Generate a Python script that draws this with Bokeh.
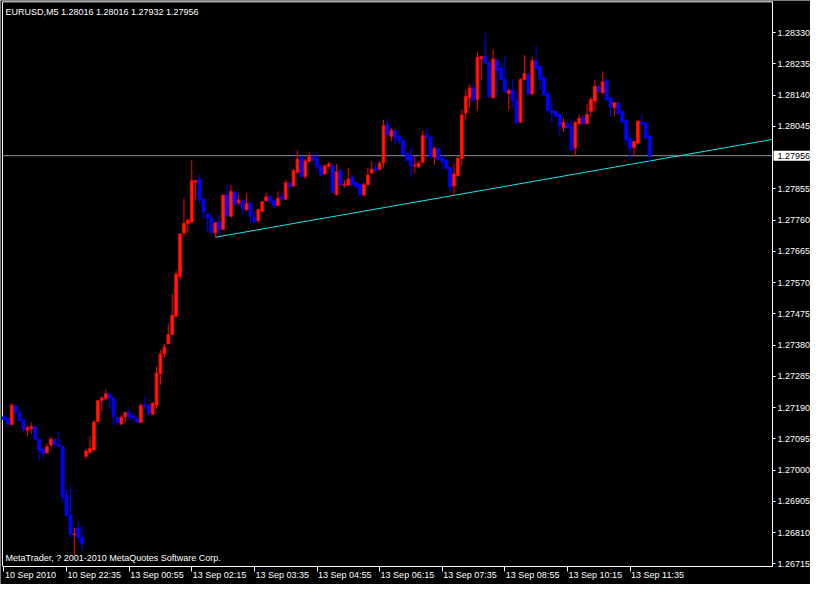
from bokeh.plotting import figure
from bokeh.models import Range1d, FixedTicker, PrintfTickFormatter, Label, LabelSet, ColumnDataSource
from bokeh.embed import file_html
from bokeh.resources import INLINE
from bokeh.core.properties import value

symbol = "EURUSD,M5"

opens = [1.27162, 1.27157, 1.27138, 1.27194, 1.27175, 1.27152, 1.27121, 1.27126, 1.27132, 1.27093,
         1.27064, 1.27052, 1.27076, 1.27092, 1.27078, 1.27072, 1.26923, 1.26862, 1.26803, 1.26823,
         1.26795, 1.27042, 1.27054, 1.27061, 1.27147, 1.27212, 1.27217, 1.27232, 1.27219, 1.27160,
         1.27140, 1.27162, 1.27175, 1.27165, 1.27157, 1.27145, 1.27200, 1.27195, 1.27170, 1.27197,
         1.27293, 1.27353, 1.27384, 1.27412, 1.27468, 1.27589, 1.27721, 1.27749, 1.27754, 1.27875,
         1.27885, 1.27824, 1.27779, 1.27767, 1.27721, 1.27755, 1.27732, 1.27836, 1.27772, 1.27844,
         1.27813, 1.27818, 1.27792, 1.27811, 1.27769, 1.27759, 1.27787, 1.27819, 1.27831, 1.27819,
         1.27804, 1.27833, 1.27824, 1.27872, 1.27864, 1.27905, 1.27952, 1.27893, 1.27939, 1.27952,
         1.27949, 1.27923, 1.27900, 1.27923, 1.27925, 1.27838, 1.27910, 1.27866, 1.27866, 1.27890,
         1.27875, 1.27868, 1.27836, 1.27868, 1.27903, 1.27918, 1.27915, 1.27935, 1.28051, 1.28014,
         1.28033, 1.28014, 1.28004, 1.27962, 1.27957, 1.27925, 1.27922, 1.27936, 1.28019, 1.28013,
         1.27952, 1.27977, 1.27949, 1.27942, 1.27920, 1.27864, 1.27895, 1.27948, 1.28086, 1.28132,
         1.28162, 1.28127, 1.28250, 1.28258, 1.28238, 1.28132, 1.28247, 1.28221, 1.28188, 1.28145,
         1.28156, 1.28122, 1.28058, 1.28188, 1.28201, 1.28144, 1.28245, 1.28228, 1.28191, 1.28144,
         1.28093, 1.28090, 1.28081, 1.28041, 1.28053, 1.28046, 1.27979, 1.28053, 1.28073, 1.28053,
         1.28091, 1.28122, 1.28165, 1.28147, 1.28186, 1.28132, 1.28102, 1.28114, 1.28091, 1.28063,
         1.28007, 1.27981, 1.27994, 1.28058, 1.28055, 1.28016]
highs = [1.27170, 1.27160, 1.27203, 1.27200, 1.27185, 1.27155, 1.27135, 1.27144, 1.27133, 1.27096,
         1.27064, 1.27080, 1.27102, 1.27094, 1.27118, 1.27072, 1.26940, 1.26953, 1.26825, 1.26844,
         1.26830, 1.27066, 1.27102, 1.27152, 1.27213, 1.27224, 1.27244, 1.27233, 1.27220, 1.27161,
         1.27167, 1.27177, 1.27185, 1.27173, 1.27158, 1.27203, 1.27224, 1.27200, 1.27206, 1.27315,
         1.27364, 1.27384, 1.27446, 1.27535, 1.27606, 1.27719, 1.27826, 1.27765, 1.27943, 1.27881,
         1.27900, 1.27825, 1.27780, 1.27777, 1.27753, 1.27777, 1.27838, 1.27866, 1.27866, 1.27848,
         1.27838, 1.27821, 1.27841, 1.27815, 1.27785, 1.27794, 1.27818, 1.27844, 1.27836, 1.27821,
         1.27848, 1.27844, 1.27883, 1.27877, 1.27917, 1.27972, 1.27954, 1.27946, 1.27969, 1.27962,
         1.27969, 1.27930, 1.27930, 1.27937, 1.27929, 1.27930, 1.27917, 1.27883, 1.27918, 1.27897,
         1.27877, 1.27869, 1.27875, 1.27919, 1.27940, 1.27937, 1.27940, 1.28066, 1.28070, 1.28040,
         1.28034, 1.28020, 1.28007, 1.27963, 1.27981, 1.27954, 1.27942, 1.28033, 1.28040, 1.28015,
         1.27984, 1.27981, 1.27961, 1.27945, 1.27922, 1.27930, 1.27954, 1.28096, 1.28157, 1.28173,
         1.28176, 1.28270, 1.28259, 1.28329, 1.28241, 1.28280, 1.28249, 1.28238, 1.28260, 1.28159,
         1.28188, 1.28149, 1.28191, 1.28262, 1.28212, 1.28257, 1.28290, 1.28230, 1.28206, 1.28145,
         1.28132, 1.28091, 1.28082, 1.28071, 1.28061, 1.28068, 1.28060, 1.28080, 1.28078, 1.28114,
         1.28134, 1.28186, 1.28171, 1.28213, 1.28188, 1.28133, 1.28120, 1.28122, 1.28092, 1.28064,
         1.28033, 1.28001, 1.28063, 1.28081, 1.28056, 1.28016]
lows = [1.27152, 1.27131, 1.27137, 1.27162, 1.27148, 1.27115, 1.27103, 1.27111, 1.27093, 1.27029,
        1.27037, 1.27051, 1.27071, 1.27073, 1.27071, 1.26904, 1.26859, 1.26792, 1.26741, 1.26780,
        1.26753, 1.27032, 1.27052, 1.27060, 1.27146, 1.27177, 1.27214, 1.27185, 1.27137, 1.27137,
        1.27137, 1.27145, 1.27153, 1.27156, 1.27143, 1.27143, 1.27192, 1.27165, 1.27167, 1.27187,
        1.27259, 1.27341, 1.27383, 1.27411, 1.27467, 1.27578, 1.27708, 1.27721, 1.27753, 1.27821,
        1.27811, 1.27762, 1.27726, 1.27718, 1.27708, 1.27718, 1.27729, 1.27771, 1.27768, 1.27804,
        1.27806, 1.27779, 1.27787, 1.27749, 1.27752, 1.27752, 1.27786, 1.27818, 1.27808, 1.27797,
        1.27803, 1.27823, 1.27821, 1.27856, 1.27861, 1.27904, 1.27892, 1.27885, 1.27937, 1.27935,
        1.27910, 1.27893, 1.27898, 1.27915, 1.27843, 1.27834, 1.27867, 1.27858, 1.27864, 1.27867,
        1.27856, 1.27831, 1.27835, 1.27866, 1.27901, 1.27909, 1.27910, 1.27920, 1.28018, 1.28001,
        1.27989, 1.27991, 1.27959, 1.27940, 1.27890, 1.27902, 1.27918, 1.27934, 1.28009, 1.27951,
        1.27928, 1.27944, 1.27915, 1.27917, 1.27846, 1.27836, 1.27892, 1.27925, 1.28066, 1.28102,
        1.28124, 1.28093, 1.28186, 1.28237, 1.28134, 1.28131, 1.28137, 1.28187, 1.28149, 1.28096,
        1.28102, 1.28055, 1.28055, 1.28185, 1.28142, 1.28141, 1.28220, 1.28157, 1.28139, 1.28088,
        1.28055, 1.28073, 1.28019, 1.28028, 1.28039, 1.27973, 1.27954, 1.28052, 1.28052, 1.28052,
        1.28075, 1.28093, 1.28151, 1.28145, 1.28126, 1.28075, 1.28075, 1.28084, 1.28057, 1.27986,
        1.27945, 1.27954, 1.27993, 1.28050, 1.28008, 1.27932]
closes = [1.27154, 1.27140, 1.27197, 1.27177, 1.27150, 1.27125, 1.27129, 1.27132, 1.27094, 1.27060,
          1.27050, 1.27071, 1.27094, 1.27079, 1.27072, 1.26919, 1.26862, 1.26805, 1.26806, 1.26795,
          1.26775, 1.27058, 1.27066, 1.27146, 1.27211, 1.27219, 1.27232, 1.27219, 1.27163, 1.27145,
          1.27160, 1.27175, 1.27162, 1.27157, 1.27145, 1.27197, 1.27193, 1.27173, 1.27203, 1.27295,
          1.27353, 1.27374, 1.27412, 1.27471, 1.27596, 1.27718, 1.27750, 1.27760, 1.27880, 1.27880,
          1.27821, 1.27785, 1.27767, 1.27723, 1.27752, 1.27732, 1.27836, 1.27772, 1.27848, 1.27808,
          1.27821, 1.27795, 1.27811, 1.27772, 1.27755, 1.27792, 1.27816, 1.27831, 1.27819, 1.27804,
          1.27826, 1.27824, 1.27874, 1.27861, 1.27910, 1.27946, 1.27893, 1.27940, 1.27954, 1.27946,
          1.27923, 1.27897, 1.27925, 1.27931, 1.27844, 1.27907, 1.27868, 1.27869, 1.27885, 1.27868,
          1.27861, 1.27838, 1.27868, 1.27897, 1.27915, 1.27910, 1.27933, 1.28048, 1.28019, 1.28033,
          1.28011, 1.28002, 1.27961, 1.27942, 1.27925, 1.27928, 1.27933, 1.28017, 1.28014, 1.27952,
          1.27977, 1.27945, 1.27938, 1.27918, 1.27861, 1.27900, 1.27948, 1.28080, 1.28137, 1.28162,
          1.28125, 1.28255, 1.28257, 1.28238, 1.28135, 1.28250, 1.28216, 1.28188, 1.28150, 1.28154,
          1.28123, 1.28056, 1.28188, 1.28206, 1.28144, 1.28245, 1.28221, 1.28188, 1.28140, 1.28094,
          1.28086, 1.28076, 1.28046, 1.28057, 1.28041, 1.27974, 1.28058, 1.28070, 1.28053, 1.28081,
          1.28127, 1.28167, 1.28152, 1.28181, 1.28127, 1.28104, 1.28117, 1.28085, 1.28058, 1.28004,
          1.27979, 1.27999, 1.28061, 1.28051, 1.28009, 1.27956]

# price axis ticks (the 1.27950 level is hidden behind the current-price tag)
y_ticks = [1.26715, 1.26810, 1.26905, 1.27000, 1.27095, 1.27190, 1.27285, 1.27380, 1.27475,
           1.27570, 1.27665, 1.27760, 1.27855, 1.28045, 1.28140, 1.28235, 1.28330]
# time axis: bar index -> label
x_tick_bars = [0, 16, 32, 48, 64, 80, 96, 112, 128, 144, 160]
x_tick_labels = ["10 Sep 2010", "10 Sep 22:35", "13 Sep 00:55", "13 Sep 02:15", "13 Sep 03:35",
                 "13 Sep 04:55", "13 Sep 06:15", "13 Sep 07:35", "13 Sep 08:55", "13 Sep 10:15",
                 "13 Sep 11:35"]
# trend line anchors (bar index, price)
trend_bars = [54, 165]
trend_prices = [1.27708, 1.27940]
footer = "MetaTrader, ? 2001-2010 MetaQuotes Software Corp."

FONT = "Liberation Sans"
FS = "9px"
# chart window (bars / prices) and the whole canvas around it
CX0, CX1 = -0.375, 196.4        # left border, price-scale line
CY0, CY1 = 1.26708, 1.28424     # time-scale line, top border
FX0, FX1 = -0.875, 206.1        # canvas extent incl. price scale
FY0, FY1 = 1.26652, 1.28428     # canvas extent incl. time scale

n = len(opens)
idx = list(range(n))
bull = [c >= o for o, c in zip(opens, closes)]
col = ["#FF0000" if b else "#0000FF" for b in bull]
fill = ["#FF2200" if b else "#0000FF" for b in bull]
src = ColumnDataSource(dict(x=idx, o=opens, h=highs, l=lows, c=closes,
                            top=[max(a, b) for a, b in zip(opens, closes)],
                            bot=[min(a, b) for a, b in zip(opens, closes)],
                            col=col, fill=fill))

p = figure(width=810, height=584, output_backend="svg", toolbar_location=None,
           x_range=Range1d(FX0, FX1), y_range=Range1d(FY0, FY1),
           y_axis_location="right", min_border=0)
p.min_border_left = 0
p.min_border_right = 0
p.min_border_top = 0
p.min_border_bottom = 0
p.background_fill_color = "black"
p.border_fill_color = "black"
p.outline_line_color = None
p.grid.visible = False

ya = p.yaxis[0]
ya.fixed_location = CX1
ya.bounds = (CY0, CY1)
ya.ticker = FixedTicker(ticks=y_ticks)
ya.formatter = PrintfTickFormatter(format="%.5f")
ya.major_label_text_color = "white"
ya.major_label_text_font = FONT
ya.major_label_text_font_size = FS
ya.axis_line_color = "white"
ya.major_tick_line_color = "white"
ya.major_tick_in = 0
ya.major_tick_out = 3
ya.minor_tick_line_color = None
ya.major_label_standoff = 2

xa = p.xaxis[0]
xa.fixed_location = CY0
xa.bounds = (CX0, CX1)
xa.ticker = FixedTicker(ticks=x_tick_bars)
xa.major_label_overrides = {b: "" for b in x_tick_bars}
xa.axis_line_color = "white"
xa.major_tick_line_color = "white"
xa.major_tick_in = 0
xa.major_tick_out = 5
xa.minor_tick_line_color = None

# chart window left and top borders
p.line([CX0, CX0, CX1], [CY0, CY1, CY1], line_color="white", line_width=1)

# current price line
last_close = closes[-1]
p.line([CX0, CX1], [last_close, last_close], line_color="#8A96A0", line_width=1)

# trend line extended to the price scale
slope = (trend_prices[1] - trend_prices[0]) / (trend_bars[1] - trend_bars[0])
t_end = trend_prices[0] + slope * (CX1 - trend_bars[0])
p.line([trend_bars[0], CX1], [trend_prices[0], t_end], line_color="#1CE6E6", line_width=1)

# candles
p.segment(x0="x", y0="l", x1="x", y1="h", line_color="col", line_width=1, source=src)
p.vbar(x="x", width=0.7, top="top", bottom="bot", fill_color="fill", line_color="col",
       line_width=1, source=src)

# current price tag on the price scale
p.quad(left=[CX1 + 0.25], right=[FX1], top=[last_close], bottom=[last_close],
       fill_color="white", line_color="white", line_width=10)
p.text(x=[CX1], y=[last_close], text=[f"{last_close:.5f}"], x_offset=5,
       text_color="black", text_font=value(FONT), text_font_size=value(FS),
       text_baseline="middle", text_align="left")

header = f"{symbol}  {opens[-1]:.5f} {highs[-1]:.5f} {lows[-1]:.5f} {closes[-1]:.5f}"
p.add_layout(Label(x=CX0, y=CY1, x_offset=3, y_offset=-10, text=header, text_color="white",
                   text_font=FONT, text_font_size=FS, text_baseline="middle"))
p.add_layout(Label(x=CX0, y=CY0, x_offset=3, y_offset=8, text=footer, text_color="white",
                   text_font=FONT, text_font_size=FS, text_baseline="middle"))

xl = ColumnDataSource(dict(x=x_tick_bars, y=[CY0] * len(x_tick_bars), t=x_tick_labels))
p.add_layout(LabelSet(x="x", y="y", text="t", source=xl, x_offset=1, y_offset=-9,
                      text_color="white", text_font=value(FONT), text_font_size=FS,
                      text_align="left", text_baseline="middle"))

open("out.html", "w").write(file_html(p, INLINE))
